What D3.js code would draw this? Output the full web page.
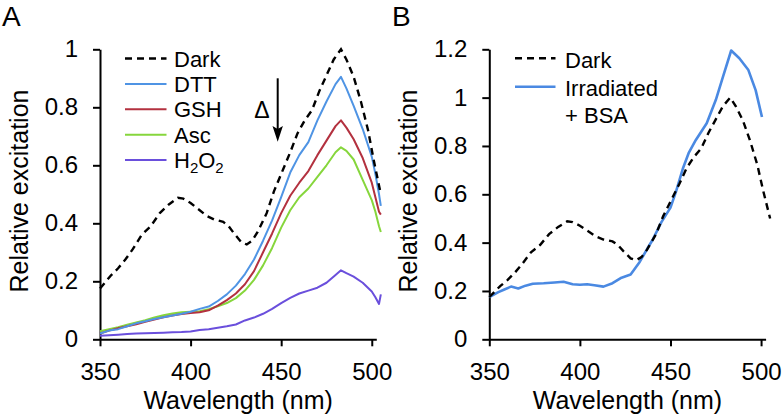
<!DOCTYPE html>
<html><head><meta charset="utf-8">
<script src="https://cdn.jsdelivr.net/npm/d3@7"></script>
<style>
html,body{margin:0;padding:0;background:#fff;}
svg{display:block;font-family:"Liberation Sans",Arial,sans-serif;}
</style></head><body>
<svg id="c" width="784" height="420"></svg>
<script>
// ---------- data ----------
const xTicks = [350, 400, 450, 500];
const xTickLabels = ["350", "400", "450", "500"];
const yTicksA = [0, 0.2, 0.4, 0.6, 0.8, 1];
const yTickLabelsA = ["0", "0.2", "0.4", "0.6", "0.8", "1"];
const yTicksB = [0, 0.2, 0.4, 0.6, 0.8, 1, 1.2];
const yTickLabelsB = ["0", "0.2", "0.4", "0.6", "0.8", "1", "1.2"];

const darkWl = [350,356,360,364,368,373,378,383,388,393,396,400,404,409,413,418,421,424,428,431,434,437,442,446,450,455,459,463,467,471,475,479,483,486,490,494,498,501,505];
const darkVal = [0.175,0.22,0.245,0.275,0.31,0.36,0.39,0.435,0.465,0.488,0.485,0.47,0.45,0.425,0.413,0.405,0.39,0.365,0.335,0.327,0.34,0.37,0.435,0.51,0.57,0.645,0.71,0.755,0.79,0.855,0.91,0.965,1.0,0.965,0.905,0.82,0.72,0.62,0.5];

const wlA = [350,355,360,365,370,375,380,385,390,395,400,405,410,415,420,425,430,435,440,445,450,455,460,465,470,475,480,483,486,490,495,500,502,504,505];
const dtt  = [0.02,0.03,0.035,0.045,0.055,0.062,0.07,0.076,0.082,0.088,0.095,0.105,0.113,0.132,0.155,0.185,0.225,0.275,0.34,0.41,0.49,0.575,0.635,0.68,0.755,0.82,0.88,0.905,0.865,0.805,0.725,0.63,0.57,0.5,0.46];
const gsh  = [0.02,0.03,0.038,0.045,0.052,0.06,0.068,0.076,0.082,0.087,0.091,0.093,0.1,0.116,0.135,0.158,0.19,0.235,0.3,0.365,0.435,0.495,0.54,0.58,0.635,0.685,0.735,0.755,0.73,0.69,0.625,0.54,0.49,0.44,0.43];
const asc  = [0.028,0.035,0.042,0.05,0.058,0.066,0.075,0.083,0.089,0.093,0.095,0.097,0.104,0.114,0.125,0.142,0.168,0.205,0.255,0.315,0.385,0.445,0.49,0.52,0.56,0.6,0.645,0.662,0.65,0.62,0.55,0.48,0.44,0.39,0.37];
const h2o2 = [0.012,0.014,0.016,0.018,0.02,0.021,0.022,0.023,0.024,0.025,0.027,0.032,0.035,0.04,0.045,0.051,0.065,0.075,0.088,0.105,0.125,0.143,0.158,0.168,0.178,0.195,0.222,0.238,0.228,0.216,0.195,0.165,0.145,0.122,0.155];

const wlB = [350,355,358,362,366,370,374,380,386,391,396,400,404,408,413,418,423,428,433,438,440,445,450,453,457,460,464,470,475,479,483.5,488,493,497,500.5];
const irrBSA = [0.175,0.195,0.205,0.218,0.21,0.222,0.23,0.232,0.235,0.238,0.228,0.226,0.228,0.224,0.218,0.232,0.255,0.268,0.32,0.385,0.41,0.485,0.545,0.61,0.71,0.77,0.825,0.894,0.99,1.087,1.195,1.163,1.114,1.031,0.92];

const seriesA = [
  {name: "DTT", values: dtt, color: "#4f94e4"},
  {name: "GSH", values: gsh, color: "#b3313f"},
  {name: "Asc", values: asc, color: "#86d63c"},
  {name: "H2O2", values: h2o2, color: "#6a4fdc"}
];

// ---------- drawing ----------
const svg = d3.select("#c");
const FONT_TICK = 24, FONT_TITLE = 25, FONT_LEG = 22;

function panel(cfg) {
  const x = d3.scaleLinear().domain([350, 502.5]).range([cfg.x0, cfg.x0 + 276.3]);
  const y = d3.scaleLinear().domain([0, cfg.ymax]).range([339.3, 49.3]);
  const g = svg.append("g");

  const xa = g.append("g").attr("transform", "translate(0,339.3)")
    .call(d3.axisBottom(x).tickValues(xTicks).tickFormat((d, i) => xTickLabels[i]).tickSize(7).tickSizeOuter(0).tickPadding(17));
  const ya = g.append("g").attr("transform", `translate(${cfg.x0},0)`)
    .call(d3.axisLeft(y).tickValues(cfg.yTicks).tickFormat((d, i) => cfg.yLabels[i]).tickSize(7).tickSizeOuter(0).tickPadding(15));
  [xa, ya].forEach(a => {
    a.select(".domain").attr("stroke", "#000").attr("stroke-width", 2);
    a.selectAll(".tick line").attr("stroke", "#000").attr("stroke-width", 2);
    a.selectAll(".tick text").attr("fill", "#000").style("font-size", FONT_TICK + "px")
      .style("font-family", '"Liberation Sans",Arial,sans-serif');
  });

  g.append("text").attr("x", (cfg.x0 + cfg.x0 + 276.3) / 2).attr("y", 409)
    .attr("text-anchor", "middle").style("font-size", FONT_TITLE + "px").text("Wavelength (nm)");
  g.append("text").attr("transform", `translate(${cfg.yTitleX},191) rotate(-90)`)
    .attr("text-anchor", "middle").style("font-size", FONT_TITLE + "px").text("Relative excitation");
  g.append("text").attr("x", cfg.letterX).attr("y", 26).style("font-size", "28px").text(cfg.letter);
  return {x, y, g};
}

const line = (x, y, wl) => d3.line().x((d, i) => x(wl[i])).y(d => y(d));

// Panel A
const A = panel({x0: 100, ymax: 1, yTicks: yTicksA, yLabels: yTickLabelsA, yTitleX: 28, letter: "A", letterX: 2});
seriesA.slice().reverse().forEach(s => {
  A.g.append("path").attr("d", line(A.x, A.y, wlA)(s.values))
    .attr("fill", "none").attr("stroke", s.color).attr("stroke-width", 2).attr("stroke-linejoin", "round");
});
A.g.append("path").attr("d", line(A.x, A.y, darkWl)(darkVal))
  .attr("fill", "none").attr("stroke", "#000").attr("stroke-width", 2.4).attr("stroke-dasharray", "7,5");

// Legend A
const legA = [{name: "Dark", color: "#000", dash: true}].concat(seriesA);
legA.forEach((s, i) => {
  const yy = 58.5 + i * 25.4;
  A.g.append("line").attr("x1", 125).attr("x2", 166.5).attr("y1", yy).attr("y2", yy)
    .attr("stroke", s.color).attr("stroke-width", s.dash ? 2.4 : 2).attr("stroke-dasharray", s.dash ? "7,5" : null);
  const t = A.g.append("text").attr("x", 174).attr("y", yy + 8).style("font-size", FONT_LEG + "px");
  if (s.name === "H2O2") {
    t.append("tspan").text("H");
    t.append("tspan").attr("dy", 5).style("font-size", "15px").text("2");
    t.append("tspan").attr("dy", -5).text("O");
    t.append("tspan").attr("dy", 5).style("font-size", "15px").text("2");
  } else t.text(s.name);
});

// Delta arrow
A.g.append("text").attr("x", 262).attr("y", 118.3).attr("text-anchor", "middle").style("font-size", "23px").text("Δ");
A.g.append("line").attr("x1", 277.7).attr("x2", 277.7).attr("y1", 78.3).attr("y2", 130).attr("stroke", "#000").attr("stroke-width", 2);
A.g.append("path").attr("d", "M272.5,126 L277.7,141.7 L282.9,126 L277.7,129 Z").attr("fill", "#000");

// Panel B
const B = panel({x0: 489.3, ymax: 1.2, yTicks: yTicksB, yLabels: yTickLabelsB, yTitleX: 417, letter: "B", letterX: 392});
B.g.append("path").attr("d", line(B.x, B.y, wlB)(irrBSA))
  .attr("fill", "none").attr("stroke", "#4a89e2").attr("stroke-width", 2.6).attr("stroke-linejoin", "round");
B.g.append("path").attr("d", line(B.x, B.y, darkWl)(darkVal))
  .attr("fill", "none").attr("stroke", "#000").attr("stroke-width", 2.4).attr("stroke-dasharray", "7,5");

// Legend B
B.g.append("line").attr("x1", 515).attr("x2", 555.5).attr("y1", 58.3).attr("y2", 58.3)
  .attr("stroke", "#000").attr("stroke-width", 2.4).attr("stroke-dasharray", "7,5");
B.g.append("text").attr("x", 565).attr("y", 67.5).style("font-size", FONT_LEG + "px").text("Dark");
B.g.append("line").attr("x1", 515).attr("x2", 555.5).attr("y1", 86.7).attr("y2", 86.7)
  .attr("stroke", "#4a89e2").attr("stroke-width", 2.6);
B.g.append("text").attr("x", 565).attr("y", 96).style("font-size", FONT_LEG + "px").text("Irradiated");
B.g.append("text").attr("x", 565).attr("y", 123).style("font-size", FONT_LEG + "px").text("+ BSA");
</script>
</body></html>
